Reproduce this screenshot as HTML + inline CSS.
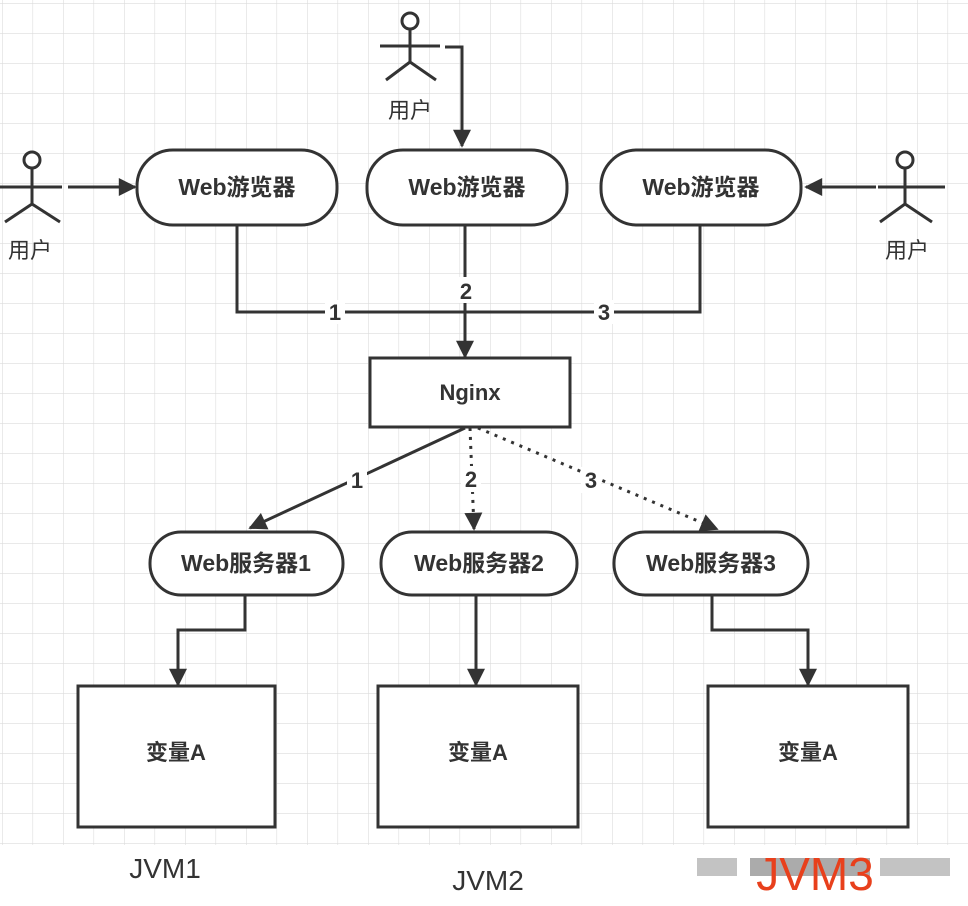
<!DOCTYPE html>
<html><head><meta charset="utf-8"><style>
html,body{margin:0;padding:0;background:#fff;}
svg{display:block;}
text{font-family:"Liberation Sans","Noto Sans CJK SC",sans-serif;}
</style></head><body>
<svg width="968" height="906" viewBox="0 0 968 906" xmlns="http://www.w3.org/2000/svg">
<defs>
<pattern id="g" x="2" y="3" width="30.5" height="30" patternUnits="userSpaceOnUse">
<path d="M0 0V30M0 0H30.5" stroke="#dcdcdc" stroke-width="1.2" fill="none"/>
</pattern>
<marker id="a" viewBox="0 0 10 10" refX="9" refY="5" markerWidth="6.5" markerHeight="6" orient="auto" markerUnits="strokeWidth"><path d="M0 0L10 5L0 10z" fill="#333"/></marker>
</defs>
<rect x="0" y="0" width="968" height="845" fill="url(#g)"/>
<g stroke="#333" stroke-width="3" fill="none">
<circle cx="410" cy="21" r="8" fill="#fff"/>
<path d="M410 29V62M380 46H440M410 62L386 80M410 62L436 80"/>
<circle cx="32" cy="160" r="8" fill="#fff"/>
<path d="M32 168V204M0 187H62M32 204L5 222M32 204L60 222"/>
<circle cx="905" cy="160" r="8" fill="#fff"/>
<path d="M905 168V204M878 187H945M905 204L880 222M905 204L932 222"/>
<path d="M445 47H462V146" marker-end="url(#a)"/>
<path d="M68 187H135" marker-end="url(#a)"/>
<path d="M876 187H806" marker-end="url(#a)"/>
<rect x="137" y="150" width="200" height="75" rx="36" fill="#fff"/>
<rect x="367" y="150" width="200" height="75" rx="36" fill="#fff"/>
<rect x="601" y="150" width="200" height="75" rx="36" fill="#fff"/>
<path d="M237 225V312H700V225"/>
<path d="M465 225V357" marker-end="url(#a)"/>
<rect x="370" y="358" width="200" height="69" fill="#fff"/>
<path d="M465 428L250 528" marker-end="url(#a)"/>
<path d="M470 428L474 529" stroke-dasharray="3 6" marker-end="url(#a)"/>
<path d="M478 428L717 529" stroke-dasharray="3 6" marker-end="url(#a)"/>
<rect x="150" y="532" width="193" height="63" rx="31" fill="#fff"/>
<rect x="381" y="532" width="196" height="63" rx="31" fill="#fff"/>
<rect x="614" y="532" width="194" height="63" rx="31" fill="#fff"/>
<path d="M245 595V630H178V685" marker-end="url(#a)"/>
<path d="M476 595V685" marker-end="url(#a)"/>
<path d="M712 595V630H808V685" marker-end="url(#a)"/>
<rect x="78" y="686" width="197" height="141" fill="#fff"/>
<rect x="378" y="686" width="200" height="141" fill="#fff"/>
<rect x="708" y="686" width="200" height="141" fill="#fff"/>
</g>
<g fill="#fff">
<rect x="325" y="300" width="20" height="24"/>
<rect x="594" y="300" width="20" height="24"/>
<rect x="456" y="277" width="20" height="26"/>
<rect x="347" y="467" width="20" height="26"/>
<rect x="461" y="466" width="20" height="26"/>
<rect x="581" y="467" width="20" height="26"/>
</g>
<g font-size="22" font-weight="bold" fill="#333" text-anchor="middle">
<text x="335" y="320">1</text>
<text x="604" y="320">3</text>
<text x="466" y="299">2</text>
<text x="357" y="488">1</text>
<text x="471" y="487">2</text>
<text x="591" y="488">3</text>
<text x="237" y="195" font-size="23">Web游览器</text>
<text x="467" y="195" font-size="23">Web游览器</text>
<text x="701" y="195" font-size="23">Web游览器</text>
<text x="470" y="400">Nginx</text>
<text x="246" y="571" font-size="23">Web服务器1</text>
<text x="479" y="571" font-size="23">Web服务器2</text>
<text x="711" y="571" font-size="23">Web服务器3</text>
<text x="176" y="760">变量A</text>
<text x="478" y="760">变量A</text>
<text x="808" y="760">变量A</text>
</g>
<g font-size="22" fill="#333" text-anchor="middle">
<text x="410" y="118">用户</text>
<text x="30" y="258">用户</text>
<text x="907" y="258">用户</text>
<text x="165" y="878" font-size="28">JVM1</text>
<text x="488" y="890" font-size="28">JVM2</text>
</g>
<g fill="#aaa" opacity="0.7">
<rect x="697" y="858" width="40" height="18"/>
<rect x="750" y="858" width="120" height="18" fill="#888"/>
<rect x="880" y="858" width="70" height="18"/>
</g>
<text x="815" y="890" font-size="46" fill="#e8401c" text-anchor="middle" font-family="Liberation Sans,sans-serif">JVM3</text>
</svg>
</body></html>
